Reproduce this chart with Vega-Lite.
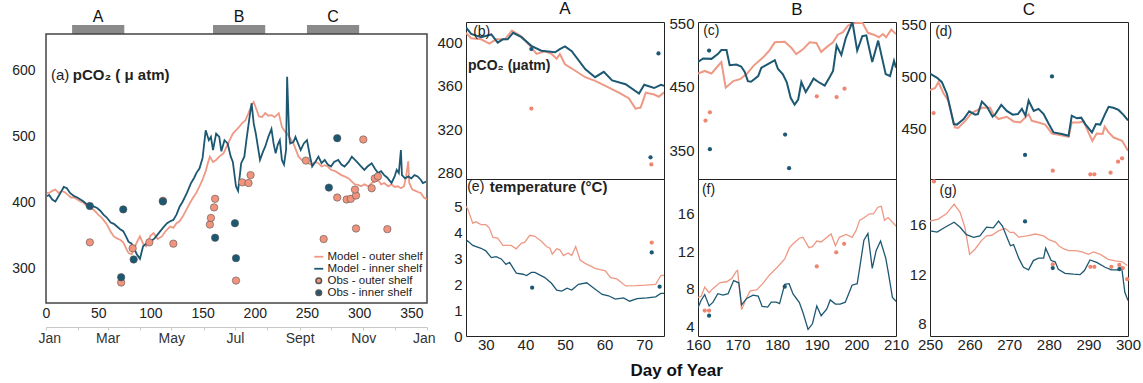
{
 "$schema": "https://vega.github.io/schema/vega-lite/v6.json",
 "background": "white",
 "padding": {"left": 10, "top": -1, "right": 0, "bottom": 0},
 "config": {
  "font": "Liberation Sans",
  "view": {"stroke": "#222", "strokeWidth": 1},
  "axis": {"domain": false, "ticks": false, "grid": false, "labelFontSize": 15, "labelColor": "#222", "labelPadding": 4, "labelFlush": false, "labelOverlap": false, "labelBound": false, "labelFont": "Liberation Sans"},
  "title": {"font": "Liberation Sans", "color": "#111"},
  "text": {"font": "Liberation Sans", "color": "#222"},
  "legend": {"orient": "bottom-right", "offset": 4, "labelFontSize": 11.5, "labelColor": "#222", "rowPadding": -4, "labelOffset": 3, "padding": 0, "labelFont": "Liberation Sans",
   "layout": {"bottom-right": {"direction": "vertical", "margin": -2}}}
 },
 "datasets": {
  "periods": [{"period": "A", "start": 25, "end": 75, "mid": 50}, {"period": "B", "start": 160, "end": 210, "mid": 185}, {"period": "C", "start": 250, "end": 300, "mid": 275}],
  "months": [{"month": "Jan", "day": 0}, {"month": "Feb", "day": 31}, {"month": "Mar", "day": 59}, {"month": "Apr", "day": 90}, {"month": "May", "day": 120}, {"month": "Jun", "day": 151}, {"month": "Jul", "day": 181}, {"month": "Aug", "day": 212}, {"month": "Sept", "day": 243}, {"month": "Oct", "day": 273}, {"month": "Nov", "day": 304}, {"month": "Dec", "day": 334}, {"month": "Jan", "day": 365}],
  "a_model_outer": [{"d":1,"v":415},{"d":3,"v":415},{"d":6,"v":418},{"d":9,"v":420},{"d":12,"v":415},{"d":15,"v":418},{"d":18,"v":416},{"d":21,"v":412},{"d":24,"v":408},{"d":27,"v":408},{"d":30,"v":405},{"d":33,"v":402},{"d":36,"v":400},{"d":39,"v":395},{"d":42,"v":392},{"d":46,"v":389},{"d":50,"v":382},{"d":53,"v":378},{"d":55,"v":374},{"d":58,"v":368},{"d":62,"v":356},{"d":65,"v":349},{"d":68,"v":346},{"d":71,"v":344},{"d":74,"v":340},{"d":77,"v":330},{"d":79,"v":324},{"d":82,"v":322},{"d":84,"v":329},{"d":87,"v":340},{"d":90,"v":349},{"d":93,"v":338},{"d":96,"v":334},{"d":100,"v":350},{"d":103,"v":354},{"d":107,"v":345},{"d":111,"v":349},{"d":115,"v":358},{"d":119,"v":364},{"d":122,"v":362},{"d":125,"v":369},{"d":128,"v":372},{"d":131,"v":379},{"d":134,"v":388},{"d":138,"v":400},{"d":141,"v":408},{"d":144,"v":415},{"d":147,"v":425},{"d":150,"v":435},{"d":153,"v":448},{"d":155,"v":460},{"d":157,"v":470},{"d":160,"v":462},{"d":163,"v":465},{"d":166,"v":470},{"d":170,"v":475},{"d":173,"v":485},{"d":176,"v":495},{"d":179,"v":505},{"d":182,"v":510},{"d":185,"v":515},{"d":188,"v":521},{"d":191,"v":525},{"d":194,"v":536},{"d":197,"v":548},{"d":199,"v":553},{"d":202,"v":540},{"d":204,"v":531},{"d":207,"v":530},{"d":210,"v":536},{"d":213,"v":532},{"d":216,"v":533},{"d":219,"v":530},{"d":223,"v":536},{"d":226,"v":515},{"d":229,"v":508},{"d":231,"v":505},{"d":234,"v":498},{"d":237,"v":490},{"d":240,"v":478},{"d":242,"v":470},{"d":245,"v":465},{"d":248,"v":462},{"d":251,"v":460},{"d":254,"v":458},{"d":258,"v":462},{"d":261,"v":460},{"d":264,"v":455},{"d":267,"v":457},{"d":270,"v":455},{"d":273,"v":450},{"d":277,"v":448},{"d":280,"v":445},{"d":283,"v":442},{"d":286,"v":440},{"d":290,"v":437},{"d":293,"v":432},{"d":296,"v":428},{"d":299,"v":427},{"d":302,"v":425},{"d":305,"v":428},{"d":309,"v":425},{"d":312,"v":430},{"d":315,"v":432},{"d":318,"v":435},{"d":321,"v":428},{"d":324,"v":430},{"d":328,"v":425},{"d":331,"v":428},{"d":334,"v":424},{"d":337,"v":425},{"d":340,"v":422},{"d":343,"v":425},{"d":345,"v":440},{"d":347,"v":463},{"d":348,"v":430},{"d":351,"v":420},{"d":354,"v":418},{"d":357,"v":416},{"d":359,"v":415},{"d":362,"v":408},{"d":365,"v":405}],
  "a_model_inner": [{"d":1,"v":410},{"d":3,"v":412},{"d":6,"v":405},{"d":9,"v":402},{"d":12,"v":410},{"d":15,"v":418},{"d":17,"v":424},{"d":20,"v":422},{"d":23,"v":415},{"d":27,"v":410},{"d":30,"v":408},{"d":33,"v":405},{"d":36,"v":402},{"d":39,"v":398},{"d":42,"v":396},{"d":45,"v":395},{"d":49,"v":392},{"d":52,"v":388},{"d":55,"v":382},{"d":58,"v":378},{"d":62,"v":370},{"d":65,"v":368},{"d":68,"v":364},{"d":71,"v":360},{"d":74,"v":357},{"d":77,"v":348},{"d":79,"v":341},{"d":82,"v":338},{"d":84,"v":332},{"d":87,"v":322},{"d":90,"v":315},{"d":93,"v":334},{"d":96,"v":338},{"d":100,"v":341},{"d":104,"v":346},{"d":108,"v":354},{"d":112,"v":362},{"d":116,"v":369},{"d":119,"v":372},{"d":122,"v":374},{"d":125,"v":382},{"d":128,"v":394},{"d":131,"v":402},{"d":135,"v":415},{"d":139,"v":430},{"d":142,"v":438},{"d":144,"v":445},{"d":147,"v":452},{"d":150,"v":468},{"d":153,"v":510},{"d":156,"v":495},{"d":158,"v":500},{"d":160,"v":480},{"d":163,"v":505},{"d":166,"v":500},{"d":168,"v":478},{"d":171,"v":495},{"d":174,"v":490},{"d":177,"v":470},{"d":179,"v":462},{"d":182,"v":425},{"d":184,"v":418},{"d":187,"v":460},{"d":190,"v":470},{"d":192,"v":495},{"d":195,"v":530},{"d":197,"v":551},{"d":199,"v":520},{"d":201,"v":505},{"d":203,"v":485},{"d":205,"v":465},{"d":208,"v":478},{"d":210,"v":485},{"d":213,"v":500},{"d":216,"v":512},{"d":218,"v":490},{"d":220,"v":475},{"d":222,"v":488},{"d":224,"v":495},{"d":226,"v":465},{"d":228,"v":458},{"d":230,"v":480},{"d":231,"v":591},{"d":233,"v":500},{"d":234,"v":490},{"d":237,"v":492},{"d":239,"v":500},{"d":242,"v":488},{"d":244,"v":480},{"d":247,"v":490},{"d":250,"v":495},{"d":253,"v":470},{"d":255,"v":455},{"d":258,"v":462},{"d":261,"v":470},{"d":264,"v":460},{"d":267,"v":465},{"d":270,"v":458},{"d":273,"v":455},{"d":276,"v":462},{"d":280,"v":465},{"d":283,"v":458},{"d":286,"v":455},{"d":290,"v":462},{"d":293,"v":470},{"d":296,"v":465},{"d":299,"v":460},{"d":302,"v":455},{"d":305,"v":450},{"d":308,"v":455},{"d":312,"v":460},{"d":315,"v":452},{"d":318,"v":445},{"d":321,"v":448},{"d":324,"v":442},{"d":327,"v":438},{"d":331,"v":430},{"d":334,"v":440},{"d":336,"v":450},{"d":338,"v":445},{"d":340,"v":480},{"d":341,"v":442},{"d":344,"v":437},{"d":347,"v":440},{"d":350,"v":437},{"d":353,"v":442},{"d":356,"v":440},{"d":359,"v":435},{"d":361,"v":430},{"d":364,"v":432}],
  "a_obs_outer": [{"d":42,"v":340},{"d":72,"v":279},{"d":83,"v":331},{"d":99,"v":340},{"d":112,"v":403},{"d":122,"v":338},{"d":157,"v":367},{"d":158,"v":377},{"d":161,"v":393},{"d":162,"v":406},{"d":182,"v":282},{"d":188,"v":431},{"d":194,"v":430},{"d":196,"v":442},{"d":249,"v":464},{"d":266,"v":345},{"d":279,"v":408},{"d":288,"v":405},{"d":292,"v":406},{"d":297,"v":411},{"d":296,"v":420},{"d":297,"v":361},{"d":304,"v":496},{"d":312,"v":422},{"d":315,"v":437},{"d":318,"v":440},{"d":327,"v":360}],
  "a_obs_inner": [{"d":42,"v":395},{"d":72,"v":287},{"d":74,"v":390},{"d":84,"v":314},{"d":112,"v":402},{"d":162,"v":347},{"d":181,"v":369},{"d":182,"v":316},{"d":271,"v":423},{"d":279,"v":498}],
  "b_model_outer": [{"d":25,"v":409},{"d":26.3,"v":404},{"d":28.8,"v":403},{"d":30.9,"v":399},{"d":32.6,"v":403},{"d":34.8,"v":403},{"d":36.6,"v":411},{"d":39,"v":405.5},{"d":41.5,"v":395.6},{"d":42.8,"v":389.5},{"d":44.9,"v":392},{"d":46.6,"v":389.5},{"d":47.9,"v":385},{"d":48.7,"v":389.5},{"d":50,"v":380},{"d":52.6,"v":374},{"d":55.1,"v":368},{"d":57.6,"v":364.6},{"d":60.2,"v":360},{"d":63.6,"v":353.8},{"d":66.1,"v":348.6},{"d":67.8,"v":339},{"d":69.1,"v":340},{"d":70.4,"v":353.8},{"d":72.5,"v":352},{"d":73.7,"v":350},{"d":75,"v":354}],
  "b_model_inner": [{"d":25,"v":414},{"d":26.3,"v":408},{"d":28.8,"v":405},{"d":31.4,"v":407.5},{"d":33,"v":400},{"d":34.3,"v":403},{"d":35.5,"v":403},{"d":36.9,"v":409},{"d":39,"v":405},{"d":41.5,"v":397},{"d":44,"v":392.5},{"d":47.5,"v":391},{"d":48.7,"v":394},{"d":50,"v":396.5},{"d":51.7,"v":392},{"d":55.1,"v":375.5},{"d":57.6,"v":368},{"d":59.8,"v":373},{"d":61.9,"v":365},{"d":65.3,"v":361.5},{"d":68.7,"v":353},{"d":70,"v":361},{"d":72.5,"v":358},{"d":74.2,"v":361},{"d":75,"v":360}],
  "b_obs_outer": [{"d":41.5,"v":339},{"d":71.8,"v":287.5}],
  "b_obs_inner": [{"d":41.5,"v":394},{"d":73.6,"v":390},{"d":71.6,"v":294}],
  "e_model_outer": [{"d":25,"v":5.0},{"d":25.4,"v":4.91},{"d":26.7,"v":4.35},{"d":27.5,"v":4.4},{"d":28.8,"v":4.29},{"d":30,"v":4.29},{"d":30.9,"v":4.16},{"d":31.8,"v":3.8},{"d":33,"v":3.77},{"d":34.3,"v":3.49},{"d":36.4,"v":3.49},{"d":37.7,"v":3.36},{"d":39,"v":3.58},{"d":39.8,"v":3.61},{"d":41.1,"v":3.88},{"d":42.4,"v":3.84},{"d":44.1,"v":3.64},{"d":45.3,"v":3.45},{"d":46.2,"v":3.38},{"d":46.8,"v":3.15},{"d":47.9,"v":3.36},{"d":48.7,"v":3.32},{"d":49.6,"v":3.1},{"d":50.8,"v":3.2},{"d":51.7,"v":3.1},{"d":52.7,"v":3.45},{"d":53.8,"v":2.93},{"d":55.1,"v":2.8},{"d":57.6,"v":2.61},{"d":60.2,"v":2.51},{"d":61.5,"v":2.25},{"d":63.1,"v":2.2},{"d":65.3,"v":1.93},{"d":67.8,"v":1.94},{"d":70.4,"v":1.96},{"d":72.9,"v":1.99},{"d":74.2,"v":2.33},{"d":75,"v":2.35}],
  "e_model_inner": [{"d":25,"v":3.62},{"d":25.4,"v":3.67},{"d":26.7,"v":3.49},{"d":28.8,"v":3.38},{"d":30,"v":3.28},{"d":31.4,"v":3.02},{"d":32.6,"v":3.06},{"d":33.9,"v":2.97},{"d":35.1,"v":2.76},{"d":36,"v":2.84},{"d":37.7,"v":2.42},{"d":39.4,"v":2.38},{"d":40.3,"v":2.33},{"d":41.5,"v":2.45},{"d":42.4,"v":2.45},{"d":44.9,"v":2.25},{"d":46.6,"v":2.03},{"d":47.9,"v":1.77},{"d":49.2,"v":1.73},{"d":50.5,"v":1.84},{"d":51.7,"v":1.77},{"d":53.4,"v":1.99},{"d":55.5,"v":2.05},{"d":56.8,"v":1.9},{"d":59.4,"v":1.6},{"d":61,"v":1.55},{"d":62.7,"v":1.42},{"d":64.8,"v":1.47},{"d":66.3,"v":1.34},{"d":68.2,"v":1.44},{"d":70.7,"v":1.47},{"d":72.9,"v":1.51},{"d":74.2,"v":1.64},{"d":75,"v":1.64}],
  "e_obs_outer": [{"d":71.9,"v":3.6}],
  "e_obs_inner": [{"d":41.7,"v":1.86},{"d":71.9,"v":3.22},{"d":73.9,"v":1.9}],
  "c_model_outer": [{"d":160,"v":471},{"d":161.7,"v":475},{"d":163.4,"v":471},{"d":165.9,"v":489},{"d":167,"v":448.7},{"d":168.9,"v":459},{"d":170.6,"v":462},{"d":172.3,"v":470},{"d":174,"v":483},{"d":176.4,"v":496},{"d":178,"v":507},{"d":179.4,"v":520},{"d":181.9,"v":521},{"d":183.5,"v":512},{"d":184.8,"v":501.6},{"d":186.5,"v":509},{"d":188.2,"v":520},{"d":189.9,"v":519},{"d":191.1,"v":505},{"d":192.8,"v":514},{"d":194.1,"v":520},{"d":195.3,"v":532},{"d":196.6,"v":536},{"d":197.9,"v":546.5},{"d":199.1,"v":550},{"d":201.5,"v":551},{"d":202.9,"v":535},{"d":204.4,"v":532},{"d":205.7,"v":528},{"d":206.7,"v":533},{"d":207.5,"v":528},{"d":208.8,"v":540},{"d":210,"v":533}],
  "c_model_inner": [{"d":160,"v":489},{"d":161.3,"v":494.6},{"d":163.4,"v":494},{"d":165,"v":501.6},{"d":165.9,"v":508},{"d":167.2,"v":508},{"d":168,"v":484},{"d":169.7,"v":485},{"d":170.9,"v":482},{"d":171.8,"v":473.5},{"d":172.6,"v":459},{"d":173.4,"v":458},{"d":175.2,"v":467},{"d":176,"v":480},{"d":178,"v":487},{"d":179.4,"v":492},{"d":180.2,"v":478},{"d":181.4,"v":470},{"d":182.4,"v":457.6},{"d":183.4,"v":432.8},{"d":184.4,"v":422},{"d":185.3,"v":430},{"d":186.1,"v":457.6},{"d":187.2,"v":441.7},{"d":188.2,"v":452},{"d":189.2,"v":463},{"d":190.3,"v":458},{"d":192,"v":452},{"d":193.2,"v":464.6},{"d":194.1,"v":475},{"d":195,"v":514.8},{"d":196.2,"v":500},{"d":197.3,"v":526.5},{"d":199,"v":552},{"d":200.2,"v":507},{"d":201.5,"v":529.7},{"d":202.5,"v":531},{"d":204,"v":489},{"d":205.5,"v":522.7},{"d":207.4,"v":470},{"d":208.5,"v":467},{"d":209.5,"v":491},{"d":210,"v":480}],
  "c_obs_outer": [{"d":161.9,"v":397},{"d":163,"v":410},{"d":190,"v":435},{"d":195,"v":434},{"d":197,"v":447}],
  "c_obs_inner": [{"d":162.8,"v":507},{"d":163,"v":352},{"d":182,"v":375},{"d":183,"v":322}],
  "f_model_outer": [{"d":160,"v":7.1},{"d":160.8,"v":7.24},{"d":161.7,"v":8.2},{"d":162.8,"v":7.6},{"d":163.8,"v":8.06},{"d":165.5,"v":8.66},{"d":167.2,"v":8.77},{"d":168.5,"v":9.1},{"d":169.7,"v":9.9},{"d":170,"v":9.98},{"d":171,"v":5.8},{"d":172.3,"v":7.1},{"d":173.2,"v":7.8},{"d":174.8,"v":7.9},{"d":176.4,"v":8.6},{"d":178,"v":9.47},{"d":180.2,"v":10.4},{"d":181.9,"v":11.2},{"d":183.1,"v":12.4},{"d":183.9,"v":12.75},{"d":185.6,"v":13.4},{"d":186.5,"v":13.5},{"d":188,"v":12.4},{"d":188.9,"v":12.5},{"d":190,"v":13.1},{"d":191.1,"v":13.0},{"d":193.6,"v":13.86},{"d":194.7,"v":12.6},{"d":195.7,"v":13.5},{"d":197.4,"v":13.8},{"d":198.9,"v":13.5},{"d":199.9,"v":14.2},{"d":200.8,"v":15.3},{"d":202,"v":15.6},{"d":203.3,"v":16.0},{"d":204.3,"v":16.0},{"d":205.4,"v":16.7},{"d":206.3,"v":16.8},{"d":207.1,"v":15.3},{"d":208,"v":15.6},{"d":210,"v":14.7}],
  "f_model_inner": [{"d":160,"v":6.0},{"d":160.8,"v":6.8},{"d":161.7,"v":7.4},{"d":162.8,"v":6.2},{"d":163.8,"v":6.6},{"d":165,"v":7.5},{"d":166.3,"v":7.35},{"d":167.6,"v":7.5},{"d":169,"v":8.9},{"d":170.3,"v":8.66},{"d":171,"v":6.3},{"d":172.3,"v":7.0},{"d":173.9,"v":7.35},{"d":175.2,"v":7.24},{"d":176.2,"v":6.14},{"d":177.6,"v":6.07},{"d":178.5,"v":6.6},{"d":179.8,"v":6.6},{"d":180.6,"v":6.45},{"d":181.9,"v":8.5},{"d":183,"v":8.56},{"d":184,"v":7.47},{"d":185.6,"v":6.56},{"d":186.5,"v":5.5},{"d":187.8,"v":3.7},{"d":188.9,"v":4.3},{"d":190,"v":6.2},{"d":191.1,"v":5.16},{"d":192.5,"v":5.86},{"d":193.4,"v":6.84},{"d":194.7,"v":6.4},{"d":195.9,"v":6.4},{"d":197.2,"v":6.6},{"d":198.9,"v":8.4},{"d":200.2,"v":8.56},{"d":201,"v":10.7},{"d":201.9,"v":13.2},{"d":202.9,"v":13.9},{"d":204,"v":10.2},{"d":205,"v":12.1},{"d":206.1,"v":13.1},{"d":207.4,"v":11.3},{"d":208,"v":9.9},{"d":209.1,"v":7.1},{"d":210,"v":6.7}],
  "f_obs_outer": [{"d":161.7,"v":5.7},{"d":162.8,"v":5.7},{"d":190,"v":10.4},{"d":194.9,"v":11.9},{"d":196.9,"v":12.8}],
  "f_obs_inner": [{"d":162.8,"v":5.16},{"d":181.9,"v":8.25}],
  "d_model_outer": [{"d":250,"v":487},{"d":251.3,"v":489},{"d":252.1,"v":494.5},{"d":253.4,"v":484},{"d":254.6,"v":477},{"d":256.3,"v":451.3},{"d":257.1,"v":450.7},{"d":258.8,"v":457},{"d":260.5,"v":465},{"d":263.1,"v":470},{"d":265.2,"v":470},{"d":266,"v":464},{"d":267.3,"v":459.3},{"d":269.4,"v":461.5},{"d":271.1,"v":457},{"d":272.8,"v":456},{"d":274.9,"v":464},{"d":275.7,"v":457.6},{"d":277.4,"v":456},{"d":279.1,"v":454},{"d":280.8,"v":445.5},{"d":282.5,"v":444.2},{"d":285,"v":442.3},{"d":285.8,"v":456},{"d":287.5,"v":456},{"d":288.8,"v":457},{"d":290,"v":446.5},{"d":291,"v":438.5},{"d":292.1,"v":445.5},{"d":293.6,"v":445},{"d":294.1,"v":452},{"d":295.1,"v":446.5},{"d":296.4,"v":441.6},{"d":298.5,"v":438.5},{"d":300,"v":429}],
  "d_model_inner": [{"d":250,"v":502.6},{"d":251.8,"v":498.7},{"d":253,"v":494.5},{"d":254.3,"v":483},{"d":256,"v":454.5},{"d":256.8,"v":454},{"d":258.5,"v":459.3},{"d":259.9,"v":466.7},{"d":261.4,"v":463.5},{"d":262.1,"v":464},{"d":263.1,"v":476},{"d":264.4,"v":471},{"d":265.8,"v":461.5},{"d":266.5,"v":464},{"d":268,"v":472.8},{"d":269.4,"v":467},{"d":270.9,"v":463.5},{"d":272.2,"v":464},{"d":273.2,"v":469},{"d":274.1,"v":462.5},{"d":274.9,"v":477},{"d":276.2,"v":467},{"d":277.4,"v":469},{"d":278.7,"v":464},{"d":280,"v":454.5},{"d":281.2,"v":446.5},{"d":283.3,"v":445},{"d":285,"v":443.4},{"d":285.8,"v":462.5},{"d":287.1,"v":460},{"d":288.2,"v":460.6},{"d":289.2,"v":454.5},{"d":290.9,"v":446.5},{"d":291.9,"v":454.5},{"d":293,"v":454},{"d":294.2,"v":464},{"d":295.1,"v":471},{"d":296.3,"v":470},{"d":297.6,"v":468},{"d":298.8,"v":463.5},{"d":300,"v":458}],
  "d_obs_outer": [{"d":250.9,"v":465},{"d":281,"v":410},{"d":290.5,"v":406.5},{"d":291.5,"v":406.5},{"d":295.6,"v":408},{"d":297.5,"v":418.6},{"d":298.5,"v":421.8}],
  "d_obs_inner": [{"d":280.8,"v":500},{"d":274,"v":425}],
  "g_model_outer": [{"d":250,"v":16.3},{"d":252.1,"v":16.46},{"d":254.2,"v":16.9},{"d":256.1,"v":17.67},{"d":257.6,"v":17.0},{"d":258.8,"v":15.8},{"d":260,"v":13.6},{"d":261.4,"v":14.04},{"d":263.1,"v":14.76},{"d":264.3,"v":15.1},{"d":265.6,"v":15.15},{"d":267.3,"v":15.5},{"d":269,"v":15.7},{"d":270.3,"v":15.36},{"d":271.1,"v":15.4},{"d":272.4,"v":15.0},{"d":274.5,"v":15.1},{"d":276.6,"v":15.25},{"d":278.7,"v":15.1},{"d":280,"v":14.8},{"d":281.7,"v":14.6},{"d":282.5,"v":14.3},{"d":283.8,"v":14.04},{"d":285,"v":13.9},{"d":286.7,"v":13.9},{"d":288.4,"v":13.8},{"d":290,"v":13.6},{"d":291.3,"v":13.8},{"d":293,"v":13.6},{"d":295,"v":13.2},{"d":296.8,"v":13.07},{"d":298.5,"v":13.0},{"d":299.8,"v":12.7}],
  "g_model_inner": [{"d":250,"v":15.5},{"d":251.8,"v":15.4},{"d":253.8,"v":15.8},{"d":256.1,"v":16.2},{"d":257.6,"v":15.8},{"d":259.2,"v":15.2},{"d":261,"v":14.98},{"d":262.6,"v":15.1},{"d":264.3,"v":15.8},{"d":266,"v":15.75},{"d":267.3,"v":16.3},{"d":268.3,"v":15.9},{"d":269.4,"v":15.0},{"d":270.3,"v":14.3},{"d":271.1,"v":14.4},{"d":272.4,"v":13.3},{"d":273.6,"v":12.56},{"d":274.9,"v":12.35},{"d":276.1,"v":13.1},{"d":277.4,"v":13.3},{"d":278.7,"v":13.3},{"d":279.2,"v":14.1},{"d":280.6,"v":13.1},{"d":281.6,"v":13.0},{"d":282.4,"v":12.4},{"d":284.1,"v":12.07},{"d":286.2,"v":12.0},{"d":287.9,"v":11.96},{"d":289,"v":12.3},{"d":290.4,"v":13.15},{"d":292.1,"v":12.95},{"d":294.2,"v":12.56},{"d":295.8,"v":12.35},{"d":297.6,"v":12.35},{"d":298.4,"v":12.56},{"d":299.2,"v":10.54},{"d":300,"v":9.87}],
  "g_obs_outer": [{"d":251,"v":19.5},{"d":281,"v":12.8},{"d":290.5,"v":12.6},{"d":291.5,"v":12.6},{"d":295.8,"v":12.6},{"d":297.8,"v":12.75},{"d":298.7,"v":12.5},{"d":299.8,"v":11.6}],
  "g_obs_inner": [{"d":274,"v":16.27},{"d":281,"v":12.5},{"d":297.8,"v":12.4}]
 },
 "spacing": 1,
 "resolve": {"scale": {"stroke": "independent", "fill": "independent"}, "legend": {"stroke": "independent", "fill": "independent"}},
 "hconcat": [
  {
   "bounds": "flush",
   "spacing": 0,
   "resolve": {"scale": {"stroke": "independent", "fill": "independent"}, "legend": {"stroke": "independent", "fill": "independent"}},
   "vconcat": [
    {
     "width": 381, "height": 12,
     "view": {"stroke": null},
     "data": {"name": "periods"},
     "layer": [
      {"mark": {"type": "rect", "color": "#8a8a8a"},
       "encoding": {
        "x": {"field": "start", "type": "quantitative", "scale": {"domain": [0, 365], "nice": false, "zero": false}, "axis": null},
        "x2": {"field": "end"},
        "y": {"datum": 0, "type": "quantitative", "scale": {"domain": [0, 12], "nice": false}, "axis": null},
        "y2": {"datum": 9}
       }},
      {"mark": {"type": "text", "fontSize": 16, "baseline": "alphabetic", "align": "center", "color": "#111"},
       "encoding": {
        "x": {"field": "mid", "type": "quantitative", "scale": {"domain": [0, 365], "nice": false, "zero": false}, "axis": null},
        "y": {"datum": 12.5, "type": "quantitative", "scale": {"domain": [0, 12], "nice": false}, "axis": null},
        "text": {"field": "period"}
       }}
     ]
    },
    {
     "width": 381, "height": 269,
     "view": {"stroke": "#444", "strokeWidth": 1.5},
     "layer": [
      {"data": {"name": "a_model_outer"}, "mark": {"type": "line", "strokeWidth": 1.8, "clip": true},
       "encoding": {
        "x": {"field": "d", "type": "quantitative", "scale": {"domain": [0, 365], "nice": false, "zero": false}, "axis": {"values": [0, 50, 100, 150, 200, 250, 300, 350], "labelFontSize": 14, "labelPadding": 3}, "title": null},
        "y": {"field": "v", "type": "quantitative", "scale": {"domain": [248, 656], "nice": false, "zero": false}, "axis": {"values": [300, 400, 500, 600], "labelFontSize": 14, "labelPadding": 11}, "title": null},
        "stroke": {"datum": "Model - outer shelf", "scale": {"domain": ["Model - outer shelf", "Model - inner shelf"], "range": ["#EE9985", "#1D5873"]}, "legend": {"symbolSize": 80, "symbolStrokeWidth": 1.8, "title": null}}}},
      {"data": {"name": "a_model_inner"}, "mark": {"type": "line", "strokeWidth": 1.8, "clip": true},
       "encoding": {
        "x": {"field": "d", "type": "quantitative", "scale": {"domain": [0, 365], "nice": false, "zero": false}, "axis": {"values": [0, 50, 100, 150, 200, 250, 300, 350], "labelFontSize": 14, "labelPadding": 3}, "title": null},
        "y": {"field": "v", "type": "quantitative", "scale": {"domain": [248, 656], "nice": false, "zero": false}, "axis": {"values": [300, 400, 500, 600], "labelFontSize": 14, "labelPadding": 11}, "title": null},
        "stroke": {"datum": "Model - inner shelf"}}},
      {"data": {"name": "a_obs_outer"}, "mark": {"type": "point", "filled": true, "size": 55, "stroke": "#555", "strokeWidth": 0.6, "opacity": 1},
       "encoding": {
        "x": {"field": "d", "type": "quantitative", "scale": {"domain": [0, 365], "nice": false, "zero": false}, "axis": {"values": [0, 50, 100, 150, 200, 250, 300, 350], "labelFontSize": 14, "labelPadding": 3}, "title": null},
        "y": {"field": "v", "type": "quantitative", "scale": {"domain": [248, 656], "nice": false, "zero": false}, "axis": {"values": [300, 400, 500, 600], "labelFontSize": 14, "labelPadding": 11}, "title": null},
        "fill": {"datum": "Obs - outer shelf", "scale": {"domain": ["Obs - outer shelf", "Obs - inner shelf"], "range": ["#F2937E", "#1D5873"]}, "legend": {"symbolSize": 32, "symbolType": "circle", "title": null}}}},
      {"data": {"name": "a_obs_inner"}, "mark": {"type": "point", "filled": true, "size": 55, "stroke": "#555", "strokeWidth": 0.6, "opacity": 1},
       "encoding": {
        "x": {"field": "d", "type": "quantitative", "scale": {"domain": [0, 365], "nice": false, "zero": false}, "axis": {"values": [0, 50, 100, 150, 200, 250, 300, 350], "labelFontSize": 14, "labelPadding": 3}, "title": null},
        "y": {"field": "v", "type": "quantitative", "scale": {"domain": [248, 656], "nice": false, "zero": false}, "axis": {"values": [300, 400, 500, 600], "labelFontSize": 14, "labelPadding": 11}, "title": null},
        "fill": {"datum": "Obs - inner shelf"}}},
      {"data": {"values": [{"label": "(a)"}]}, "mark": {"type": "text", "align": "left", "baseline": "middle", "fontSize": 15},
       "encoding": {"text": {"field": "label"},
        "x": {"datum": 4.8, "type": "quantitative", "scale": {"domain": [0, 365], "nice": false, "zero": false}, "axis": {"values": [0, 50, 100, 150, 200, 250, 300, 350], "labelFontSize": 14, "labelPadding": 3}, "title": null},
        "y": {"datum": 594, "type": "quantitative", "scale": {"domain": [248, 656], "nice": false, "zero": false}, "axis": {"values": [300, 400, 500, 600], "labelFontSize": 14, "labelPadding": 11}, "title": null}}},
      {"data": {"values": [{"label": "pCO₂ ( μ atm)"}]}, "mark": {"type": "text", "align": "left", "baseline": "middle", "fontSize": 15, "fontWeight": "bold"},
       "encoding": {"text": {"field": "label"},
        "x": {"datum": 25.7, "type": "quantitative", "scale": {"domain": [0, 365], "nice": false, "zero": false}, "axis": {"values": [0, 50, 100, 150, 200, 250, 300, 350], "labelFontSize": 14, "labelPadding": 3}, "title": null},
        "y": {"datum": 594, "type": "quantitative", "scale": {"domain": [248, 656], "nice": false, "zero": false}, "axis": {"values": [300, 400, 500, 600], "labelFontSize": 14, "labelPadding": 11}, "title": null}}}
     ]
    },
    {
     "width": 381, "height": 24,
     "view": {"stroke": null},
     "data": {"name": "months"},
     "mark": {"type": "point", "opacity": 0},
     "encoding": {
      "x": {"field": "day", "type": "quantitative", "scale": {"domain": [0, 365], "nice": false, "zero": false}, "title": null,
       "axis": {"orient": "bottom", "domain": true, "domainColor": "#c8c8c8", "ticks": true, "tickColor": "#c8c8c8", "tickSize": 3, "values": [0, 31, 59, 90, 120, 151, 181, 212, 243, 273, 304, 334, 365], "labelFontSize": 14, "labelPadding": 1, "labelColor": "#333", "labelFlush": true, "labelFlushOffset": 8,
        "labelExpr": "datum.value==0?'Jan':datum.value==59?'Mar':datum.value==120?'May':datum.value==181?'Jul':datum.value==243?'Sept':datum.value==304?'Nov':datum.value==365?'Jan':''"}}
     }
    }
   ]
  },
  {
   "bounds": "flush",
   "columns": 3,
   "spacing": {"row": 0, "column": 34},
   "title": {"text": "Day of Year", "orient": "bottom", "anchor": "start", "dx": 194, "fontSize": 17, "fontWeight": "bold", "offset": 10},
   "concat": [
      {
       "width": 198, "height": 157,
       "layer": [
        {"data": {"name": "b_model_outer"}, "mark": {"type": "line", "stroke": "#EE9985", "strokeWidth": 2, "clip": true},
         "encoding": {"x": {"field": "d", "type": "quantitative", "scale": {"domain": [25, 75], "nice": false, "zero": false}, "axis": null}, "y": {"field": "v", "type": "quantitative", "scale": {"domain": [274, 419], "nice": false, "zero": false}, "axis": {"values": [280, 320, 360, 400]}, "title": null}}},
        {"data": {"name": "b_model_inner"}, "mark": {"type": "line", "stroke": "#1D5873", "strokeWidth": 2, "clip": true},
         "encoding": {"x": {"field": "d", "type": "quantitative", "scale": {"domain": [25, 75], "nice": false, "zero": false}, "axis": null}, "y": {"field": "v", "type": "quantitative", "scale": {"domain": [274, 419], "nice": false, "zero": false}, "axis": {"values": [280, 320, 360, 400]}, "title": null}}},
        {"data": {"name": "b_obs_outer"}, "mark": {"type": "point", "filled": true, "size": 18, "color": "#EE8670", "opacity": 1},
         "encoding": {"x": {"field": "d", "type": "quantitative", "scale": {"domain": [25, 75], "nice": false, "zero": false}, "axis": null}, "y": {"field": "v", "type": "quantitative", "scale": {"domain": [274, 419], "nice": false, "zero": false}, "axis": {"values": [280, 320, 360, 400]}, "title": null}}},
        {"data": {"name": "b_obs_inner"}, "mark": {"type": "point", "filled": true, "size": 18, "color": "#1D5873", "opacity": 1},
         "encoding": {"x": {"field": "d", "type": "quantitative", "scale": {"domain": [25, 75], "nice": false, "zero": false}, "axis": null}, "y": {"field": "v", "type": "quantitative", "scale": {"domain": [274, 419], "nice": false, "zero": false}, "axis": {"values": [280, 320, 360, 400]}, "title": null}}},
        {"data": {"values": [{"label": "A"}]}, "mark": {"type": "text", "align": "center", "baseline": "alphabetic", "fontSize": 17, "color": "#111"},
         "encoding": {"text": {"field": "label"}, "x": {"datum": 50, "type": "quantitative", "scale": {"domain": [25, 75], "nice": false, "zero": false}, "axis": null}, "y": {"datum": 426.2, "type": "quantitative", "scale": {"domain": [274, 419], "nice": false, "zero": false}, "axis": {"values": [280, 320, 360, 400]}, "title": null}}},
        {"data": {"values": [{"label": "(b)"}]}, "mark": {"type": "text", "align": "left", "baseline": "middle", "fontSize": 14},
         "encoding": {"text": {"field": "label"}, "x": {"datum": 26.8, "type": "quantitative", "scale": {"domain": [25, 75], "nice": false, "zero": false}, "axis": null}, "y": {"datum": 410, "type": "quantitative", "scale": {"domain": [274, 419], "nice": false, "zero": false}, "axis": {"values": [280, 320, 360, 400]}, "title": null}}},
        {"data": {"values": [{"label": "pCO₂ (μatm)"}]}, "mark": {"type": "text", "align": "left", "baseline": "middle", "fontSize": 14, "fontWeight": "bold"},
         "encoding": {"text": {"field": "label"}, "x": {"datum": 25.5, "type": "quantitative", "scale": {"domain": [25, 75], "nice": false, "zero": false}, "axis": null}, "y": {"datum": 378, "type": "quantitative", "scale": {"domain": [274, 419], "nice": false, "zero": false}, "axis": {"values": [280, 320, 360, 400]}, "title": null}}}
       ]
      },
      {
       "width": 198, "height": 157,
       "layer": [
        {"data": {"name": "c_model_outer"}, "mark": {"type": "line", "stroke": "#EE9985", "strokeWidth": 2, "clip": true},
         "encoding": {"x": {"field": "d", "type": "quantitative", "scale": {"domain": [160, 210], "nice": false, "zero": false}, "axis": null}, "y": {"field": "v", "type": "quantitative", "scale": {"domain": [305, 552], "nice": false, "zero": false}, "axis": {"values": [350, 450, 550]}, "title": null}}},
        {"data": {"name": "c_model_inner"}, "mark": {"type": "line", "stroke": "#1D5873", "strokeWidth": 2, "clip": true},
         "encoding": {"x": {"field": "d", "type": "quantitative", "scale": {"domain": [160, 210], "nice": false, "zero": false}, "axis": null}, "y": {"field": "v", "type": "quantitative", "scale": {"domain": [305, 552], "nice": false, "zero": false}, "axis": {"values": [350, 450, 550]}, "title": null}}},
        {"data": {"name": "c_obs_outer"}, "mark": {"type": "point", "filled": true, "size": 18, "color": "#EE8670", "opacity": 1},
         "encoding": {"x": {"field": "d", "type": "quantitative", "scale": {"domain": [160, 210], "nice": false, "zero": false}, "axis": null}, "y": {"field": "v", "type": "quantitative", "scale": {"domain": [305, 552], "nice": false, "zero": false}, "axis": {"values": [350, 450, 550]}, "title": null}}},
        {"data": {"name": "c_obs_inner"}, "mark": {"type": "point", "filled": true, "size": 18, "color": "#1D5873", "opacity": 1},
         "encoding": {"x": {"field": "d", "type": "quantitative", "scale": {"domain": [160, 210], "nice": false, "zero": false}, "axis": null}, "y": {"field": "v", "type": "quantitative", "scale": {"domain": [305, 552], "nice": false, "zero": false}, "axis": {"values": [350, 450, 550]}, "title": null}}},
        {"data": {"values": [{"label": "B"}]}, "mark": {"type": "text", "align": "center", "baseline": "alphabetic", "fontSize": 17, "color": "#111"},
         "encoding": {"text": {"field": "label"}, "x": {"datum": 185, "type": "quantitative", "scale": {"domain": [160, 210], "nice": false, "zero": false}, "axis": null}, "y": {"datum": 563.4, "type": "quantitative", "scale": {"domain": [305, 552], "nice": false, "zero": false}, "axis": {"values": [350, 450, 550]}, "title": null}}},
        {"data": {"values": [{"label": "(c)"}]}, "mark": {"type": "text", "align": "left", "baseline": "middle", "fontSize": 14},
         "encoding": {"text": {"field": "label"}, "x": {"datum": 161.3, "type": "quantitative", "scale": {"domain": [160, 210], "nice": false, "zero": false}, "axis": null}, "y": {"datum": 538, "type": "quantitative", "scale": {"domain": [305, 552], "nice": false, "zero": false}, "axis": {"values": [350, 450, 550]}, "title": null}}}
       ]
      },
      {
       "width": 198, "height": 157,
       "layer": [
        {"data": {"name": "d_model_outer"}, "mark": {"type": "line", "stroke": "#EE9985", "strokeWidth": 2, "clip": true},
         "encoding": {"x": {"field": "d", "type": "quantitative", "scale": {"domain": [250, 300], "nice": false, "zero": false}, "axis": null}, "y": {"field": "v", "type": "quantitative", "scale": {"domain": [402, 552], "nice": false, "zero": false}, "axis": {"values": [450, 500, 550]}, "title": null}}},
        {"data": {"name": "d_model_inner"}, "mark": {"type": "line", "stroke": "#1D5873", "strokeWidth": 2, "clip": true},
         "encoding": {"x": {"field": "d", "type": "quantitative", "scale": {"domain": [250, 300], "nice": false, "zero": false}, "axis": null}, "y": {"field": "v", "type": "quantitative", "scale": {"domain": [402, 552], "nice": false, "zero": false}, "axis": {"values": [450, 500, 550]}, "title": null}}},
        {"data": {"name": "d_obs_outer"}, "mark": {"type": "point", "filled": true, "size": 18, "color": "#EE8670", "opacity": 1},
         "encoding": {"x": {"field": "d", "type": "quantitative", "scale": {"domain": [250, 300], "nice": false, "zero": false}, "axis": null}, "y": {"field": "v", "type": "quantitative", "scale": {"domain": [402, 552], "nice": false, "zero": false}, "axis": {"values": [450, 500, 550]}, "title": null}}},
        {"data": {"name": "d_obs_inner"}, "mark": {"type": "point", "filled": true, "size": 18, "color": "#1D5873", "opacity": 1},
         "encoding": {"x": {"field": "d", "type": "quantitative", "scale": {"domain": [250, 300], "nice": false, "zero": false}, "axis": null}, "y": {"field": "v", "type": "quantitative", "scale": {"domain": [402, 552], "nice": false, "zero": false}, "axis": {"values": [450, 500, 550]}, "title": null}}},
        {"data": {"values": [{"label": "C"}]}, "mark": {"type": "text", "align": "center", "baseline": "alphabetic", "fontSize": 17, "color": "#111"},
         "encoding": {"text": {"field": "label"}, "x": {"datum": 275, "type": "quantitative", "scale": {"domain": [250, 300], "nice": false, "zero": false}, "axis": null}, "y": {"datum": 559.1, "type": "quantitative", "scale": {"domain": [402, 552], "nice": false, "zero": false}, "axis": {"values": [450, 500, 550]}, "title": null}}},
        {"data": {"values": [{"label": "(d)"}]}, "mark": {"type": "text", "align": "left", "baseline": "middle", "fontSize": 14},
         "encoding": {"text": {"field": "label"}, "x": {"datum": 251.3, "type": "quantitative", "scale": {"domain": [250, 300], "nice": false, "zero": false}, "axis": null}, "y": {"datum": 542, "type": "quantitative", "scale": {"domain": [402, 552], "nice": false, "zero": false}, "axis": {"values": [450, 500, 550]}, "title": null}}}
       ]
      },
      {
       "width": 198, "height": 157,
       "layer": [
        {"data": {"name": "e_model_outer"}, "mark": {"type": "line", "stroke": "#EE9985", "strokeWidth": 1.3, "clip": true},
         "encoding": {"x": {"field": "d", "type": "quantitative", "scale": {"domain": [25, 75], "nice": false, "zero": false}, "axis": {"values": [30, 40, 50, 60, 70], "labelPadding": 1}, "title": null}, "y": {"field": "v", "type": "quantitative", "scale": {"domain": [0, 6.05], "nice": false, "zero": false}, "axis": {"values": [0, 1, 2, 3, 4, 5]}, "title": null}}},
        {"data": {"name": "e_model_inner"}, "mark": {"type": "line", "stroke": "#1D5873", "strokeWidth": 1.3, "clip": true},
         "encoding": {"x": {"field": "d", "type": "quantitative", "scale": {"domain": [25, 75], "nice": false, "zero": false}, "axis": {"values": [30, 40, 50, 60, 70], "labelPadding": 1}, "title": null}, "y": {"field": "v", "type": "quantitative", "scale": {"domain": [0, 6.05], "nice": false, "zero": false}, "axis": {"values": [0, 1, 2, 3, 4, 5]}, "title": null}}},
        {"data": {"name": "e_obs_outer"}, "mark": {"type": "point", "filled": true, "size": 18, "color": "#EE8670", "opacity": 1},
         "encoding": {"x": {"field": "d", "type": "quantitative", "scale": {"domain": [25, 75], "nice": false, "zero": false}, "axis": {"values": [30, 40, 50, 60, 70], "labelPadding": 1}, "title": null}, "y": {"field": "v", "type": "quantitative", "scale": {"domain": [0, 6.05], "nice": false, "zero": false}, "axis": {"values": [0, 1, 2, 3, 4, 5]}, "title": null}}},
        {"data": {"name": "e_obs_inner"}, "mark": {"type": "point", "filled": true, "size": 18, "color": "#1D5873", "opacity": 1},
         "encoding": {"x": {"field": "d", "type": "quantitative", "scale": {"domain": [25, 75], "nice": false, "zero": false}, "axis": {"values": [30, 40, 50, 60, 70], "labelPadding": 1}, "title": null}, "y": {"field": "v", "type": "quantitative", "scale": {"domain": [0, 6.05], "nice": false, "zero": false}, "axis": {"values": [0, 1, 2, 3, 4, 5]}, "title": null}}},
        {"data": {"values": [{"label": "(e)"}]}, "mark": {"type": "text", "align": "left", "baseline": "middle", "fontSize": 14},
         "encoding": {"text": {"field": "label"}, "x": {"datum": 25.3, "type": "quantitative", "scale": {"domain": [25, 75], "nice": false, "zero": false}, "axis": {"values": [30, 40, 50, 60, 70], "labelPadding": 1}, "title": null}, "y": {"datum": 5.74, "type": "quantitative", "scale": {"domain": [0, 6.05], "nice": false, "zero": false}, "axis": {"values": [0, 1, 2, 3, 4, 5]}, "title": null}}},
        {"data": {"values": [{"label": "temperature (°C)"}]}, "mark": {"type": "text", "align": "left", "baseline": "middle", "fontSize": 15, "fontWeight": "bold"},
         "encoding": {"text": {"field": "label"}, "x": {"datum": 31, "type": "quantitative", "scale": {"domain": [25, 75], "nice": false, "zero": false}, "axis": {"values": [30, 40, 50, 60, 70], "labelPadding": 1}, "title": null}, "y": {"datum": 5.74, "type": "quantitative", "scale": {"domain": [0, 6.05], "nice": false, "zero": false}, "axis": {"values": [0, 1, 2, 3, 4, 5]}, "title": null}}}
       ]
      },
      {
       "width": 198, "height": 157,
       "layer": [
        {"data": {"name": "f_model_outer"}, "mark": {"type": "line", "stroke": "#EE9985", "strokeWidth": 1.3, "clip": true},
         "encoding": {"x": {"field": "d", "type": "quantitative", "scale": {"domain": [160, 210], "nice": false, "zero": false}, "axis": {"values": [160, 170, 180, 190, 200, 210], "labelPadding": 1}, "title": null}, "y": {"field": "v", "type": "quantitative", "scale": {"domain": [3, 19.7], "nice": false, "zero": false}, "axis": {"values": [4, 8, 12, 16]}, "title": null}}},
        {"data": {"name": "f_model_inner"}, "mark": {"type": "line", "stroke": "#1D5873", "strokeWidth": 1.3, "clip": true},
         "encoding": {"x": {"field": "d", "type": "quantitative", "scale": {"domain": [160, 210], "nice": false, "zero": false}, "axis": {"values": [160, 170, 180, 190, 200, 210], "labelPadding": 1}, "title": null}, "y": {"field": "v", "type": "quantitative", "scale": {"domain": [3, 19.7], "nice": false, "zero": false}, "axis": {"values": [4, 8, 12, 16]}, "title": null}}},
        {"data": {"name": "f_obs_outer"}, "mark": {"type": "point", "filled": true, "size": 18, "color": "#EE8670", "opacity": 1},
         "encoding": {"x": {"field": "d", "type": "quantitative", "scale": {"domain": [160, 210], "nice": false, "zero": false}, "axis": {"values": [160, 170, 180, 190, 200, 210], "labelPadding": 1}, "title": null}, "y": {"field": "v", "type": "quantitative", "scale": {"domain": [3, 19.7], "nice": false, "zero": false}, "axis": {"values": [4, 8, 12, 16]}, "title": null}}},
        {"data": {"name": "f_obs_inner"}, "mark": {"type": "point", "filled": true, "size": 18, "color": "#1D5873", "opacity": 1},
         "encoding": {"x": {"field": "d", "type": "quantitative", "scale": {"domain": [160, 210], "nice": false, "zero": false}, "axis": {"values": [160, 170, 180, 190, 200, 210], "labelPadding": 1}, "title": null}, "y": {"field": "v", "type": "quantitative", "scale": {"domain": [3, 19.7], "nice": false, "zero": false}, "axis": {"values": [4, 8, 12, 16]}, "title": null}}},
        {"data": {"values": [{"label": "(f)"}]}, "mark": {"type": "text", "align": "left", "baseline": "middle", "fontSize": 14},
         "encoding": {"text": {"field": "label"}, "x": {"datum": 161, "type": "quantitative", "scale": {"domain": [160, 210], "nice": false, "zero": false}, "axis": {"values": [160, 170, 180, 190, 200, 210], "labelPadding": 1}, "title": null}, "y": {"datum": 18.5, "type": "quantitative", "scale": {"domain": [3, 19.7], "nice": false, "zero": false}, "axis": {"values": [4, 8, 12, 16]}, "title": null}}}
       ]
      },
      {
       "width": 198, "height": 157,
       "layer": [
        {"data": {"name": "g_model_outer"}, "mark": {"type": "line", "stroke": "#EE9985", "strokeWidth": 1.3, "clip": true},
         "encoding": {"x": {"field": "d", "type": "quantitative", "scale": {"domain": [250, 300], "nice": false, "zero": false}, "axis": {"values": [250, 260, 270, 280, 290, 300], "labelPadding": 1}, "title": null}, "y": {"field": "v", "type": "quantitative", "scale": {"domain": [7, 19.7], "nice": false, "zero": false}, "axis": {"values": [8, 12, 16]}, "title": null}}},
        {"data": {"name": "g_model_inner"}, "mark": {"type": "line", "stroke": "#1D5873", "strokeWidth": 1.3, "clip": true},
         "encoding": {"x": {"field": "d", "type": "quantitative", "scale": {"domain": [250, 300], "nice": false, "zero": false}, "axis": {"values": [250, 260, 270, 280, 290, 300], "labelPadding": 1}, "title": null}, "y": {"field": "v", "type": "quantitative", "scale": {"domain": [7, 19.7], "nice": false, "zero": false}, "axis": {"values": [8, 12, 16]}, "title": null}}},
        {"data": {"name": "g_obs_outer"}, "mark": {"type": "point", "filled": true, "size": 18, "color": "#EE8670", "opacity": 1},
         "encoding": {"x": {"field": "d", "type": "quantitative", "scale": {"domain": [250, 300], "nice": false, "zero": false}, "axis": {"values": [250, 260, 270, 280, 290, 300], "labelPadding": 1}, "title": null}, "y": {"field": "v", "type": "quantitative", "scale": {"domain": [7, 19.7], "nice": false, "zero": false}, "axis": {"values": [8, 12, 16]}, "title": null}}},
        {"data": {"name": "g_obs_inner"}, "mark": {"type": "point", "filled": true, "size": 18, "color": "#1D5873", "opacity": 1},
         "encoding": {"x": {"field": "d", "type": "quantitative", "scale": {"domain": [250, 300], "nice": false, "zero": false}, "axis": {"values": [250, 260, 270, 280, 290, 300], "labelPadding": 1}, "title": null}, "y": {"field": "v", "type": "quantitative", "scale": {"domain": [7, 19.7], "nice": false, "zero": false}, "axis": {"values": [8, 12, 16]}, "title": null}}},
        {"data": {"values": [{"label": "(g)"}]}, "mark": {"type": "text", "align": "left", "baseline": "middle", "fontSize": 14},
         "encoding": {"text": {"field": "label"}, "x": {"datum": 252.4, "type": "quantitative", "scale": {"domain": [250, 300], "nice": false, "zero": false}, "axis": {"values": [250, 260, 270, 280, 290, 300], "labelPadding": 1}, "title": null}, "y": {"datum": 18.7, "type": "quantitative", "scale": {"domain": [7, 19.7], "nice": false, "zero": false}, "axis": {"values": [8, 12, 16]}, "title": null}}}
       ]
      }
   ]
  }
 ]
}
